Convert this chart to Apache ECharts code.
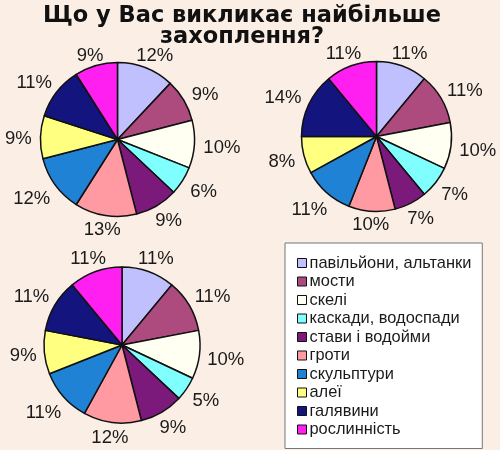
<!DOCTYPE html>
<html>
<head>
<meta charset="utf-8">
<script src="https://cdn.jsdelivr.net/npm/echarts@6/dist/echarts.min.js"></script>
<style>
html,body{margin:0;padding:0;background:#faeee5;}
#c{width:500px;height:450px;}
</style>
</head>
<body>
<div id="c"></div>
<script>
var categories = ['павільйони, альтанки','мости','скелі','каскади, водоспади','стави і водойми','гроти','скульптури','алеї','галявини','рослинність'];
var pie1Values = [12, 9, 10, 6, 9, 13, 12, 9, 11, 9];
var pie2Values = [11, 11, 10, 7, 7, 10, 11, 8, 14, 11];
var pie3Values = [11, 11, 10, 5, 9, 12, 11, 9, 11, 11];
var colors = ['#c0c0ff','#ad4a7e','#fffff2','#80ffff','#7b1a7b','#ff9aa2','#1f82d4','#ffff80','#14147e','#ff1ff0'];
var titleText = 'Що у Вас викликає найбільше\nзахоплення?';

var allValues = [pie1Values, pie2Values, pie3Values];
// pie geometry: centre, drawn radius, label ellipse radii
var pies = [
  { c: [117.5, 139.5], r: 77, rx: 81.5, ry: 72.5 },
  { c: [376.5, 136.5], r: 75, rx: 78.5, ry: 71 },
  { c: [122, 345], r: 78, rx: 81, ry: 75 }
];

function makeLayout(s) {
  return function (params) {
    var vals = allValues[s];
    var total = 0, before = 0, i;
    for (i = 0; i < vals.length; i++) total += vals[i];
    for (i = 0; i < params.dataIndex; i++) before += vals[i];
    var frac = (before + vals[params.dataIndex] / 2) / total;
    var th = frac * Math.PI * 2;
    var sn = Math.sin(th), cs = Math.cos(th);
    var p = pies[s];
    var hw = params.labelRect.width / 2, hh = params.labelRect.height / 2;
    var ex = p.c[0] + p.rx * sn, ey = p.c[1] - p.ry * cs;
    var off = 4 + hw * Math.abs(sn) + hh * Math.abs(cs);
    return { x: ex + off * sn, y: ey - off * cs + 2.5, align: 'center', verticalAlign: 'middle' };
  };
}

function makeSeries(s) {
  var vals = allValues[s];
  return {
    type: 'pie',
    center: pies[s].c,
    radius: pies[s].r,
    startAngle: 90,
    clockwise: true,
    avoidLabelOverlap: false,
    animation: false,
    itemStyle: { borderColor: '#111', borderWidth: 1.5 },
    label: {
      show: true,
      position: 'outside',
      formatter: '{c}%',
      fontFamily: 'Arial, Liberation Sans, sans-serif',
      fontSize: 18.5,
      color: '#1a1a1a'
    },
    labelLine: { show: false, length: 6, length2: 2 },
    labelLayout: makeLayout(s),
    emphasis: { disabled: true },
    data: categories.map(function (n, i) { return { name: n, value: vals[i] }; })
  };
}

var chart = echarts.init(document.getElementById('c'));
chart.setOption({
  backgroundColor: '#faeee5',
  color: colors,
  title: {
    text: titleText,
    left: 237,
    textAlign: 'center',
    top: 1,
    textStyle: { fontFamily: 'DejaVu Sans, Arial, sans-serif', fontSize: 22.5, fontWeight: 'bold', color: '#111', lineHeight: 21 }
  },
  legend: {
    orient: 'vertical',
    left: 285,
    top: 243,
    padding: [12, 11, 11, 12],
    backgroundColor: '#ffffff',
    borderColor: '#777',
    borderWidth: 1,
    itemWidth: 9,
    itemHeight: 9,
    itemGap: 2.5,
    icon: 'rect',
    selectedMode: false,
    data: categories,
    itemStyle: { borderColor: '#111', borderWidth: 1 },
    textStyle: { fontFamily: 'Arial, Liberation Sans, sans-serif', fontSize: 16.4, color: '#1a1a1a', lineHeight: 16, padding: [0, 0, 0, -2] }
  },
  series: [makeSeries(0), makeSeries(1), makeSeries(2)]
});
</script>
</body>
</html>
